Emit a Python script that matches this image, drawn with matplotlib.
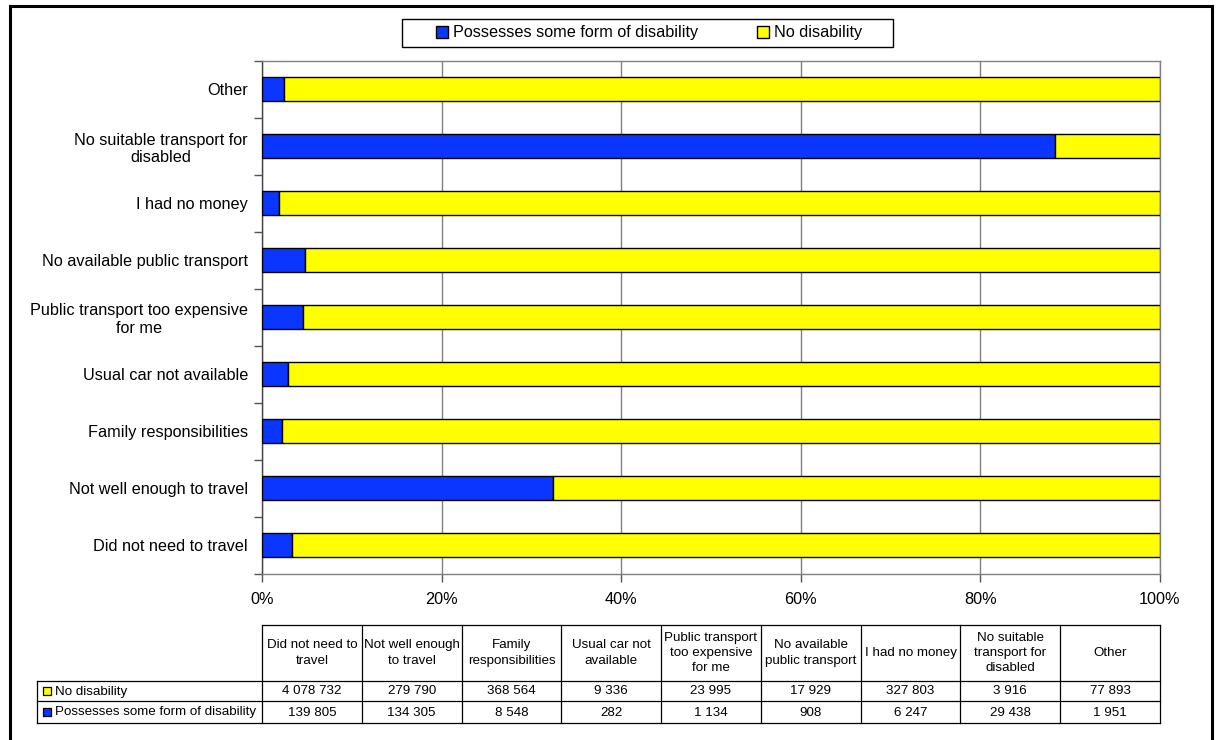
import numpy as np
import matplotlib.pyplot as plt
from matplotlib.patches import Rectangle

plt.rcParams['font.family'] = ['Liberation Sans', 'DejaVu Sans']

# Reasons for not travelling (bottom to top on the chart)
categories = ["Did not need to travel", "Not well enough to travel",
              "Family responsibilities", "Usual car not available",
              "Public transport too expensive for me",
              "No available public transport", "I had no money",
              "No suitable transport for disabled", "Other"]
bar_labels = ["Did not need to travel", "Not well enough to travel",
              "Family responsibilities", "Usual car not available",
              "Public transport too expensive\nfor me",
              "No available public transport", "I had no money",
              "No suitable transport for\ndisabled", "Other"]
table_headers = ["Did not need to\ntravel", "Not well enough\nto travel",
                 "Family\nresponsibilities", "Usual car not\navailable",
                 "Public transport\ntoo expensive\nfor me",
                 "No available\npublic transport", "I had no money",
                 "No suitable\ntransport for\ndisabled", "Other"]
no_disability = [4078732, 279790, 368564, 9336, 23995, 17929, 327803, 3916, 77893]
disability = [139805, 134305, 8548, 282, 1134, 908, 6247, 29438, 1951]

blue = '#0A36FF'
yellow = '#FFFF00'

no_dis = np.array(no_disability, dtype=float)
dis = np.array(disability, dtype=float)
total = no_dis + dis
p_dis = dis / total * 100
p_no = no_dis / total * 100

W, H = 1217, 740
fig = plt.figure(figsize=(W / 100, H / 100), dpi=100)

# outer frame
fig.patches.append(Rectangle((10 / W, -0.1), 1202 / W, 1.1 - 6 / H,
                             transform=fig.transFigure, fill=False,
                             edgecolor='black', linewidth=2.2))

ax = fig.add_axes([262 / W, 1 - 573.5 / H, 898 / W, 513 / H])
y = np.arange(len(categories))
ax.barh(y, p_dis, height=0.41, color=blue, edgecolor='black', linewidth=1,
        label='Possesses some form of disability', zorder=3)
ax.barh(y, p_no, left=p_dis, height=0.41, color=yellow, edgecolor='black',
        linewidth=1, label='No disability', zorder=3)

ax.set_xlim(0, 100)
ax.set_ylim(-0.5, len(categories) - 0.5)
ax.set_xticks(np.arange(0, 101, 20))
ax.set_xticklabels([f'{v}%' for v in range(0, 101, 20)], fontsize=11.7)
ax.tick_params(axis='x', length=6, width=1, color='#555555', pad=7)
ax.grid(axis='x', color='#808080', linewidth=1, zorder=0)

ax.set_yticks(np.arange(-0.5, len(categories), 1))
ax.set_yticklabels([])
ax.set_yticks(y, minor=True)
ax.set_yticklabels(bar_labels, minor=True, fontsize=11.7, multialignment='center')
ax.tick_params(axis='y', which='major', length=6, width=1, color='#555555')
ax.tick_params(axis='y', which='minor', length=0, pad=10)

for s in ['top', 'right', 'bottom']:
    ax.spines[s].set_color('#808080')
ax.spines['left'].set_color('#444444')
for s in ax.spines.values():
    s.set_linewidth(1)

# legend at top, with its own box
handles = [Rectangle((0, 0), 1, 1, facecolor=blue, edgecolor='black'),
           Rectangle((0, 0), 1, 1, facecolor=yellow, edgecolor='black')]
fig.legend(handles, ['Possesses some form of disability', 'No disability'],
           loc='center', bbox_to_anchor=(649 / W, 1 - 33 / H), ncol=2,
           fontsize=11.7, frameon=False, handlelength=0.75,
           handleheight=0.75, handletextpad=0.3, columnspacing=3.65,
           borderpad=0.3)
fig.patches.append(Rectangle((402 / W, 1 - 47 / H), 491 / W, 28 / H,
                             transform=fig.transFigure, fill=False,
                             edgecolor='black', linewidth=1))

# data table below the chart
tx0, tx1 = 37, 1160
ty0, ty1 = 625, 723
col_w = 898 / 9
lab_w = (262 - 37) / col_w
tax = fig.add_axes([tx0 / W, 1 - ty1 / H, (tx1 - tx0) / W, (ty1 - ty0) / H])
tax.set_xlim(-lab_w, 9)
tax.set_ylim(ty1 - ty0, 0)
tax.axis('off')
h_head, r1, r2 = 56, 76, 98
lk = dict(color='black', linewidth=0.9, clip_on=False)
tax.plot([0, 9], [0, 0], **lk)
tax.plot([-lab_w, 9], [h_head, h_head], **lk)
tax.plot([-lab_w, 9], [r1, r1], **lk)
tax.plot([-lab_w, 9], [r2, r2], **lk)
tax.plot([-lab_w, -lab_w], [h_head, r2], **lk)
for i in range(10):
    tax.plot([i, i], [0, r2], **lk)
for i, head in enumerate(table_headers):
    tax.text(i + 0.5, h_head / 2, head, ha='center', va='center', fontsize=9.6,
             linespacing=1.35)
    tax.text(i + 0.5, (h_head + r1) / 2 + 0.5, f'{no_disability[i]:,}'.replace(',', ' '),
             ha='center', va='center', fontsize=9.6)
    tax.text(i + 0.5, (r1 + r2) / 2 + 0.5, f'{disability[i]:,}'.replace(',', ' '),
             ha='center', va='center', fontsize=9.6)
key_w = 8 / col_w
for (yc, col, name) in [((h_head + r1) / 2, yellow, 'No disability'),
                        ((r1 + r2) / 2, blue, 'Possesses some form of disability')]:
    tax.add_patch(Rectangle((-lab_w + 6 / col_w, yc - 4), key_w, 8, facecolor=col,
                            edgecolor='black', linewidth=0.9, clip_on=False))
    tax.text(-lab_w + 18 / col_w, yc + 0.5, name, ha='left', va='center', fontsize=9.6)

fig.savefig('out.png', dpi=100)
